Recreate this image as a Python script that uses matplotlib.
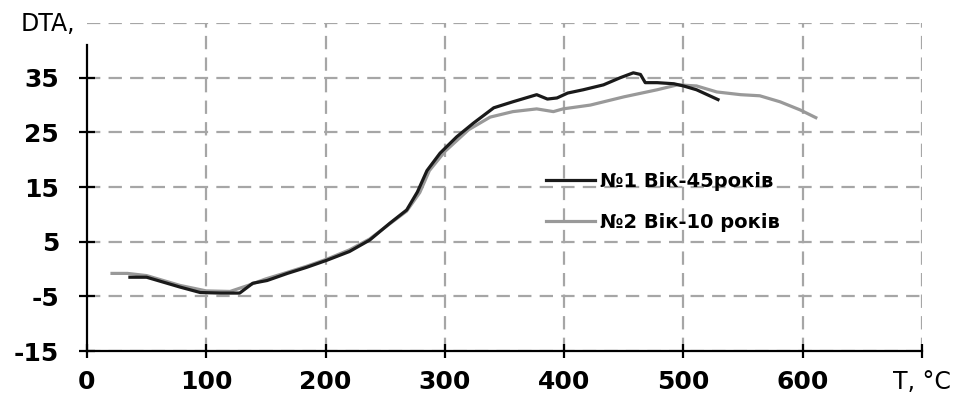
import matplotlib
matplotlib.use('Agg')
import matplotlib.pyplot as plt

# --- data --------------------------------------------------------
t_1 = [36, 50, 64, 78, 95, 112, 128, 139, 151, 168, 184, 201, 220, 237, 254, 268,
       277, 285, 296, 310, 324, 341, 357, 377, 386, 394, 403, 416, 433, 447, 458,
       464, 468, 478, 492, 500, 511, 520, 529]
dta_1 = [-1.5, -1.5, -2.4, -3.3, -4.3, -4.4, -4.4, -2.6, -2.1, -0.8, 0.3, 1.6, 3.2, 5.3, 8.4, 10.8,
         14.1, 18.0, 21.2, 24.2, 26.7, 29.5, 30.6, 31.9, 31.1, 31.3, 32.2, 32.8, 33.7, 35.0, 35.9,
         35.6, 34.1, 34.1, 33.9, 33.5, 32.8, 31.9, 31.0]

t_2 = [21, 34, 50, 64, 78, 100, 120, 135, 150, 168, 184, 201, 220, 237, 254, 268,
       279, 287, 300, 320, 338, 357, 377, 391, 399, 422, 450, 478, 495, 511, 528,
       548, 564, 581, 598, 611]
dta_2 = [-0.8, -0.8, -1.2, -2.1, -3.0, -4.0, -4.1, -3.0, -1.8, -0.6, 0.5, 1.8, 3.5, 5.5, 8.3, 10.6,
         14.0, 18.0, 21.5, 25.5, 27.8, 28.8, 29.3, 28.8, 29.3, 30.0, 31.5, 32.8, 33.7, 33.5, 32.4,
         31.9, 31.7, 30.6, 29.1, 27.7]

x_ticks = [0, 100, 200, 300, 400, 500, 600, 700]
x_labels = ['0', '100', '200', '300', '400', '500', '600', 'T, °C']
y_ticks = [-15, -5, 5, 15, 25, 35]
labels = ['№1 Вік-45років', '№2 Вік-10 років']

plt.rcParams['font.family'] = ['DejaVu Sans']

fig = plt.figure(figsize=(9.6, 4.05), dpi=100)
ax = fig.add_axes([0.0906, 0.1333, 0.8698, 0.8097])

# сетка пунктиром
grid_kw = dict(color='#a6a6a6', linewidth=1.6, linestyle=(0, (6.0, 3.7)), zorder=0)
for yv in y_ticks + [45]:
    ax.axhline(yv, **grid_kw)
for xv in x_ticks[1:]:
    ax.axvline(xv, **grid_kw)

ax.plot(t_1, dta_1, color='#1a1a1a', linewidth=2.3, label=labels[0], zorder=3)
ax.plot(t_2, dta_2, color='#999999', linewidth=2.3, label=labels[1], zorder=2)

ax.set_xlim(0, 700)
ax.set_ylim(-15, 45)
ax.set_xticks(x_ticks)
ax.set_xticklabels(x_labels)
ax.set_yticks(y_ticks)
ax.set_yticklabels([str(v) for v in y_ticks])

for s in ['top', 'right']:
    ax.spines[s].set_visible(False)
for s in ['left', 'bottom']:
    ax.spines[s].set_linewidth(1.6)
ax.spines['left'].set_bounds(-15, 41)

ax.tick_params(axis='x', direction='inout', length=10, width=1.6, pad=9)
ax.tick_params(axis='y', direction='inout', length=12, width=1.6, pad=14)
for lab in ax.get_xticklabels() + ax.get_yticklabels():
    lab.set_fontsize(18)
    lab.set_fontweight('bold')
last = ax.get_xticklabels()[-1]
last.set_fontweight('normal')
last.set_fontsize(17)

fig.text(0.021, 0.94, 'DTA,', fontsize=17, ha='left', va='center')

leg = ax.legend(loc='upper left', bbox_to_anchor=(0.55, 0.545), frameon=False,
                borderpad=0, borderaxespad=0,
                handlelength=2.5, labelspacing=1.1, handletextpad=0.25,
                prop={'size': 14, 'weight': 'bold'})

fig.savefig('out.png', dpi=100)
